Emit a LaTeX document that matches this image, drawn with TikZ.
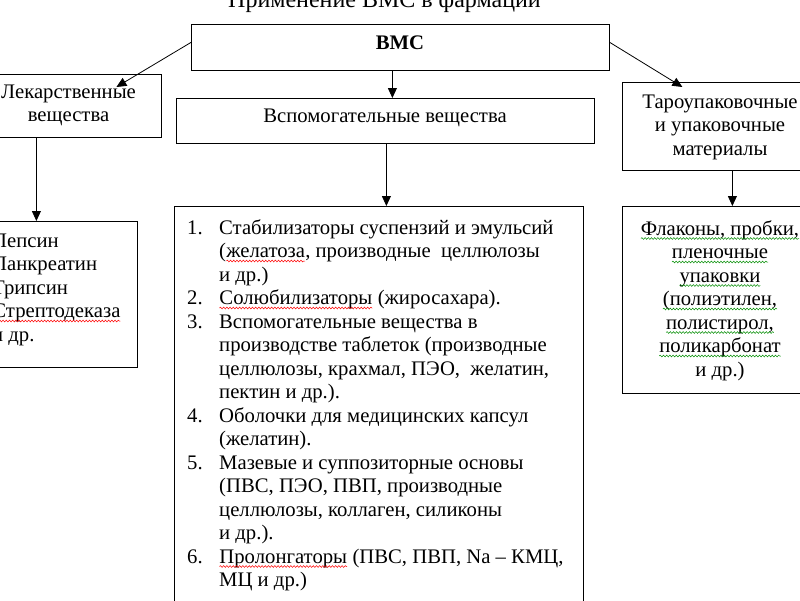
\documentclass[tikz,border=0pt]{standalone}
\usepackage{fontspec}
\setmainfont{Liberation Serif}
\usetikzlibrary{arrows.meta,decorations.pathmorphing}
\newcommand\wavyline[2]{\tikz[baseline=(w.base),x=1cm,y=1cm]{\node[inner sep=0pt,outer sep=0pt] (w) {#2};\draw[#1, line width=0.5pt, decorate, decoration={snake, amplitude=0.9pt, segment length=3.2pt}] ([yshift=-3.5pt]w.base west) -- ([yshift=-3.5pt]w.base east);}}
\newcommand\rwave[1]{\wavyline{red}{#1}}
\newcommand\gwave[1]{\wavyline{green!55!black}{#1}}
\begin{document}
\begin{tikzpicture}[x=1pt,y=-1pt,
  box/.style={draw, line width=0.8pt, rectangle, inner sep=0pt, anchor=north west},
  txt/.style={inner sep=0pt, font=\fontsize{20.7}{23.5}\selectfont},
  arr/.style={-{Triangle[length=10pt,width=9pt]}, line width=0.8pt}]
\useasboundingbox (0,0) rectangle (800,600);
\clip (0,0) rectangle (800,600);
% boxes
\node[box, minimum width=418pt, minimum height=46pt] (vms) at (191,24) {};
\node[box, minimum width=185pt, minimum height=63pt] (lek) at (-24,74) {};
\node[box, minimum width=418pt, minimum height=45pt] (vsp) at (176,98) {};
\node[box, minimum width=200pt, minimum height=88pt] (tar) at (622,82) {};
\node[box, minimum width=177pt, minimum height=146pt] (pep) at (-40,221) {};
\node[box, minimum width=409pt, minimum height=420pt] (lst) at (174,206) {};
\node[box, minimum width=200pt, minimum height=187pt] (fl) at (622,206) {};
% texts
\node[txt, font=\fontsize{24}{28}\selectfont, anchor=base] (title) at (384.5,7) {Применение ВМС в фармации};
\node[txt, anchor=base] (vmst) at (400,49) {\textbf{ВМС}};
\node[txt, anchor=base] (lekt) at (68.5,98) {\begin{tabular}[t]{@{}c@{}}Лекарственные\\вещества\end{tabular}};
\node[txt, anchor=base] (vspt) at (385,122) {Вспомогательные вещества};
\node[txt, anchor=base] (tart) at (720,108) {\begin{tabular}[t]{@{}c@{}}Тароупаковочные\\и упаковочные\\материалы\end{tabular}};
\node[txt, anchor=base west] (pept) at (-8,247) {\begin{tabular}[t]{@{}l@{}}Пепсин\\Панкреатин\\Трипсин\\\rwave{Стрептодеказа}\\и др.\end{tabular}};
\node[txt, anchor=base west] (lstt) at (187,234) {\begin{tabular}[t]{@{}p{32pt}@{}l@{}}
1. & Стабилизаторы суспензий и эмульсий\\
   & (\rwave{желатоза}, производные~ целлюлозы\\
   & и др.)\\
2. & \rwave{Солюбилизаторы} (жиросахара).\\
3. & Вспомогательные вещества в\\
   & производстве таблеток (производные\\
   & целлюлозы, крахмал, ПЭО,~ желатин,\\
   & пектин и др.).\\
4. & Оболочки для медицинских капсул\\
   & (желатин).\\
5. & Мазевые и суппозиторные основы\\
   & (ПВС, ПЭО, ПВП, производные\\
   & целлюлозы, коллаген, силиконы\\
   & и др.).\\
6. & \rwave{Пролонгаторы} (ПВС, ПВП, Na – КМЦ,\\
   & МЦ и др.)
\end{tabular}};
\node[txt, anchor=base] (flt) at (720,235) {\begin{tabular}[t]{@{}c@{}}\gwave{Флаконы, пробки,}\\\gwave{пленочные}\\\gwave{упаковки}\\\gwave{(полиэтилен,}\\\gwave{полистирол,}\\\gwave{поликарбонат}\\и др.)\end{tabular}};
% arrows
\draw[arr] ([yshift=5pt]vms.west) -- ([xshift=47.5pt,yshift=-13pt]lek.north);
\draw[arr] ([yshift=5pt]vms.east) -- ([xshift=-40pt,yshift=-5pt]tar.north);
\draw[arr] ([xshift=-8pt]vms.south) -- ([xshift=7pt]vsp.north);
\draw[arr] ([xshift=1pt]vsp.south) -- ([xshift=1pt]vsp.south |- lst.north);
\draw[arr] ([xshift=-32.5pt]lek.south) -- ([xshift=-32.5pt]lek.south |- pep.north);
\draw[arr] ([xshift=10pt]tar.south) -- ([xshift=10pt]tar.south |- fl.north);
\end{tikzpicture}
\end{document}
